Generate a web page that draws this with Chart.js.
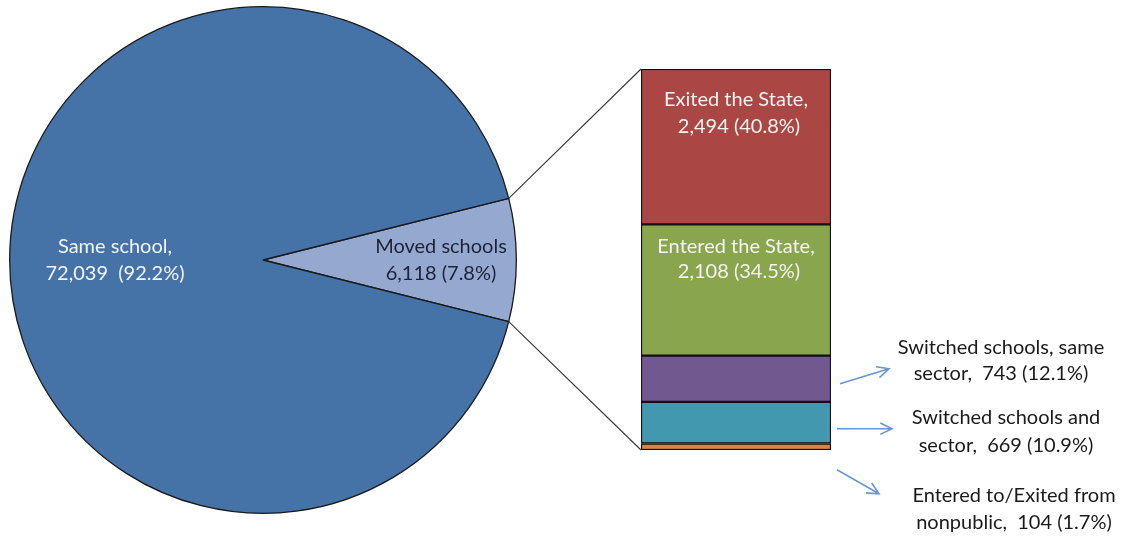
<!DOCTYPE html>
<html>
<head>
<meta charset="utf-8">
<script src="https://cdn.jsdelivr.net/npm/chart.js@4/dist/chart.umd.min.js"></script>
<style>
  html, body { margin: 0; padding: 0; background: #fff; }
  #wrap { position: relative; width: 1132px; height: 539px; }
  #wrap canvas { position: absolute; left: 0; top: 0; }
</style>
</head>
<body>
<div id="wrap">
  <canvas id="pie" width="1132" height="539"></canvas>
  <canvas id="bar" width="1132" height="539"></canvas>
</div>
<script>
// pie: moved schools vs same school
const pieLabels = ["Moved schools", "Same school"];
const pieValues = [6118, 72039];
const pieText = [["Moved schools", "6,118 (7.8%)"], ["Same school,", "72,039  (92.2%)"]];

// bar: breakdown of the 6,118 who moved (bottom to top)
const barLabels = ["Entered to/Exited from nonpublic", "Switched schools and sector", "Switched schools, same sector", "Entered the State", "Exited the State"];
const barValues = [104, 669, 743, 2108, 2494];
const barText = [
    ["Entered to/Exited from", "nonpublic,  104 (1.7%)"],
    ["Switched schools and", "sector,  669 (10.9%)"],
    ["Switched schools, same", "sector,  743 (12.1%)"],
    ["Entered the State,", "2,108 (34.5%)"],
    ["Exited the State,", "2,494 (40.8%)"]
];

const FONT = "20px Lato, 'Open Sans', sans-serif";
const pieColors = ["#95A9D0", "#4572A7"];
const barColors = ["#DB843D", "#4198AF", "#71588F", "#89A54E", "#AA4643"];

// how far from the pie centre each label sits
const pieLabelDist = [178, 148];
const pieLabelColor = ["#1c2238", "#f2f4f8"];
// inner labels for the two big segments: offsets from segment top
const innerLabelOffsets = { 3: [22, 47], 4: [31, 58] };
// callouts for the three small segments (relative to bar right edge / segment centre)
const callouts = {
    2: { from: [9, 5], to: [58, -10], textX: 170, lines: [-31, -5] },
    1: { from: [6, 6], to: [61, 6], textX: 175, lines: [-5, 23] },
    0: { from: [6, 23], to: [48, 47], textX: 183, lines: [49, 76] }
};

const total = pieValues.reduce((a, b) => a + b, 0);
const movedDeg = pieValues[0] / total * 360;

const pieChart = new Chart(document.getElementById("pie"), {
    type: "pie",
    data: {
        labels: pieLabels,
        datasets: [{
            data: pieValues,
            backgroundColor: pieColors,
            borderColor: "#1a1a1a",
            borderWidth: 1.3
        }]
    },
    options: {
        responsive: false,
        animation: false,
        rotation: 90 - movedDeg / 2,
        layout: { padding: { left: 9, right: 615, top: 6, bottom: 25 } },
        plugins: { legend: { display: false }, tooltip: { enabled: false } }
    },
    plugins: [{
        id: "pieText",
        afterDatasetsDraw(chart) {
            const ctx = chart.ctx;
            const arcs = chart.getDatasetMeta(0).data;
            ctx.save();
            ctx.font = FONT;
            ctx.textAlign = "center";
            ctx.textBaseline = "middle";
            arcs.forEach((arc, i) => {
                const mid = (arc.startAngle + arc.endAngle) / 2;
                const cx = arc.x + Math.cos(mid) * pieLabelDist[i];
                const cy = arc.y + Math.sin(mid) * pieLabelDist[i];
                ctx.fillStyle = pieLabelColor[i];
                ctx.fillText(pieText[i][0], cx, cy - 13);
                ctx.fillText(pieText[i][1], cx, cy + 14);
            });
            ctx.restore();
        }
    }]
});

const drawArrow = (ctx, x1, y1, x2, y2) => {
    const ang = Math.atan2(y2 - y1, x2 - x1);
    const head = 13;
    ctx.beginPath();
    ctx.moveTo(x1, y1);
    ctx.lineTo(x2, y2);
    ctx.moveTo(x2 - head * Math.cos(ang - 0.45), y2 - head * Math.sin(ang - 0.45));
    ctx.lineTo(x2, y2);
    ctx.lineTo(x2 - head * Math.cos(ang + 0.45), y2 - head * Math.sin(ang + 0.45));
    ctx.stroke();
};

const barChart = new Chart(document.getElementById("bar"), {
    type: "bar",
    data: {
        labels: ["Moved schools"],
        datasets: barValues.map((v, i) => ({
            label: barLabels[i],
            data: [v],
            backgroundColor: barColors[i],
            borderColor: "#111",
            borderWidth: 1.5,
            borderSkipped: false,
            barPercentage: 1,
            categoryPercentage: 1
        }))
    },
    options: {
        responsive: false,
        animation: false,
        layout: { padding: { left: 641, right: 301, top: 69, bottom: 89 } },
        scales: {
            x: { stacked: true, display: false },
            y: { stacked: true, display: false, min: 0, max: barValues.reduce((a, b) => a + b, 0) }
        },
        plugins: { legend: { display: false }, tooltip: { enabled: false } }
    },
    plugins: [{
        id: "connectors",
        afterDatasetsDraw(chart) {
            const ctx = chart.ctx;
            const moved = pieChart.getDatasetMeta(0).data[0];
            const r = moved.outerRadius;
            const topBar = chart.getDatasetMeta(barValues.length - 1).data[0];
            const botBar = chart.getDatasetMeta(0).data[0];
            const left = topBar.x - topBar.width / 2;
            const right = topBar.x + topBar.width / 2;

            ctx.save();
            // lines from pie slice to the bar
            ctx.strokeStyle = "#3c3c3c";
            ctx.lineWidth = 1.2;
            ctx.beginPath();
            ctx.moveTo(moved.x + r * Math.cos(moved.startAngle), moved.y + r * Math.sin(moved.startAngle));
            ctx.lineTo(left, topBar.y);
            ctx.moveTo(moved.x + r * Math.cos(moved.endAngle), moved.y + r * Math.sin(moved.endAngle));
            ctx.lineTo(left, botBar.base);
            ctx.stroke();

            ctx.font = FONT;
            ctx.textAlign = "center";
            ctx.textBaseline = "middle";

            barValues.forEach((v, i) => {
                const el = chart.getDatasetMeta(i).data[0];
                if (innerLabelOffsets[i]) {
                    ctx.fillStyle = "#f4f4f0";
                    ctx.fillText(barText[i][0], el.x, el.y + innerLabelOffsets[i][0]);
                    ctx.fillText(barText[i][1], el.x + 3, el.y + innerLabelOffsets[i][1]);
                } else {
                    const c = callouts[i];
                    const cy = (el.y + el.base) / 2;
                    ctx.strokeStyle = "#6a96cf";
                    ctx.lineWidth = 1.6;
                    drawArrow(ctx, right + c.from[0], cy + c.from[1], right + c.to[0], cy + c.to[1]);
                    ctx.fillStyle = "#1a1a1a";
                    ctx.fillText(barText[i][0], right + c.textX, cy + c.lines[0]);
                    ctx.fillText(barText[i][1], right + c.textX, cy + c.lines[1]);
                }
            });
            ctx.restore();
        }
    }]
});
</script>
</body>
</html>
